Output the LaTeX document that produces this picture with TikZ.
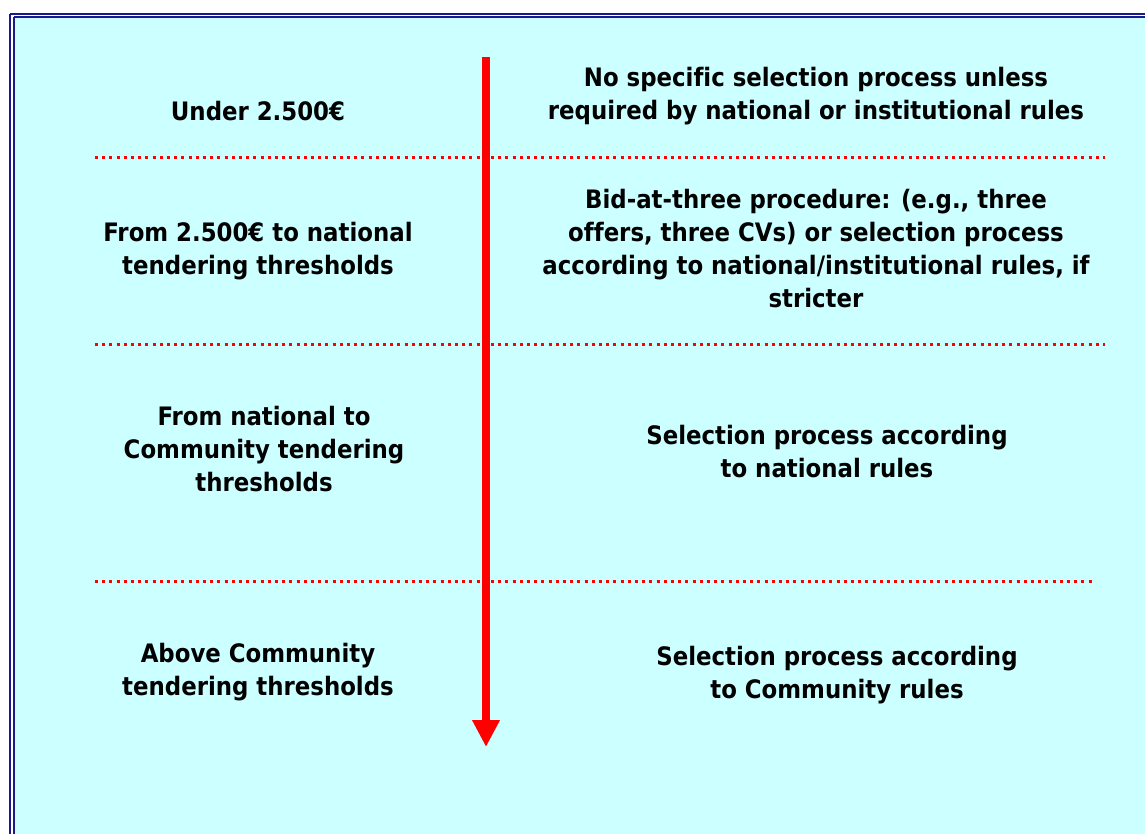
\documentclass[tikz,border=0pt]{standalone}
\usepackage{fontspec}
\setmainfont[Ligatures={NoCommon}]{DejaVu Sans Condensed}
\usetikzlibrary{arrows.meta}
\definecolor{bgcyan}{HTML}{CCFFFF}
\definecolor{framenavy}{HTML}{1A1A8C}
\begin{document}
\begin{tikzpicture}[x=1pt,y=-1pt,
  lbl/.style={font=\bfseries\fontsize{25.4}{33}\selectfont, align=center, inner sep=0pt},
  sep/.style={red, line width=3pt, dash pattern=on 3pt off 4.2pt},
  arr/.style={red, line width=8pt, -{Triangle[length=27pt,width=26pt]}}]
\useasboundingbox (0,0) rectangle (1145,834);
\fill[white] (0,0) rectangle (1145,834);
\fill[bgcyan] (14.7,17.7) rectangle (1160,850);
\draw[framenavy, line width=2pt] (10,13.7) -- (1160,13.7);
\draw[framenavy, line width=2pt] (10,13.7) -- (10,850);
\draw[framenavy, line width=2pt] (13.7,16.7) -- (1160,16.7);
\draw[framenavy, line width=2pt] (13.7,16.7) -- (13.7,850);
% separators
\coordinate (s1a) at (95,158); \coordinate (s1b) at (1105,158);
\coordinate (s2a) at (95,344); \coordinate (s2b) at (1105,344);
\coordinate (s3a) at (95,581); \coordinate (s3b) at (1095,581);
\draw[sep] (s1a) -- (s1b);
\draw[sep] (s2a) -- (s2b);
\draw[sep] (s3a) -- (s3b);
% arrow
\coordinate (atop) at (486,57); \coordinate (abot) at (486,747);
\draw[arr] (atop) -- (abot);
% left labels
\node[lbl] (l1) at (258,111) {Under 2.500€};
\node[lbl] (l2) at (258,251) {From 2.500€ to national\\tendering thresholds};
\node[lbl] (l3) at (264,449) {From national to\\Community tendering\\thresholds};
\node[lbl] (l4) at (258,672) {Above Community\\tendering thresholds};
% right labels
\node[lbl] (r1) at (816,96) {No specific selection process unless\\required by national or institutional rules};
\node[lbl] (r2) at (816,249) {Bid-at-three procedure: (e.g., three\\offers, three CVs) or selection process\\according to national/institutional rules, if\\stricter};
\node[lbl] (r3) at (827,452) {Selection process according\\to national rules};
\node[lbl] (r4) at (837,675) {Selection process according\\to Community rules};
\end{tikzpicture}
\end{document}
